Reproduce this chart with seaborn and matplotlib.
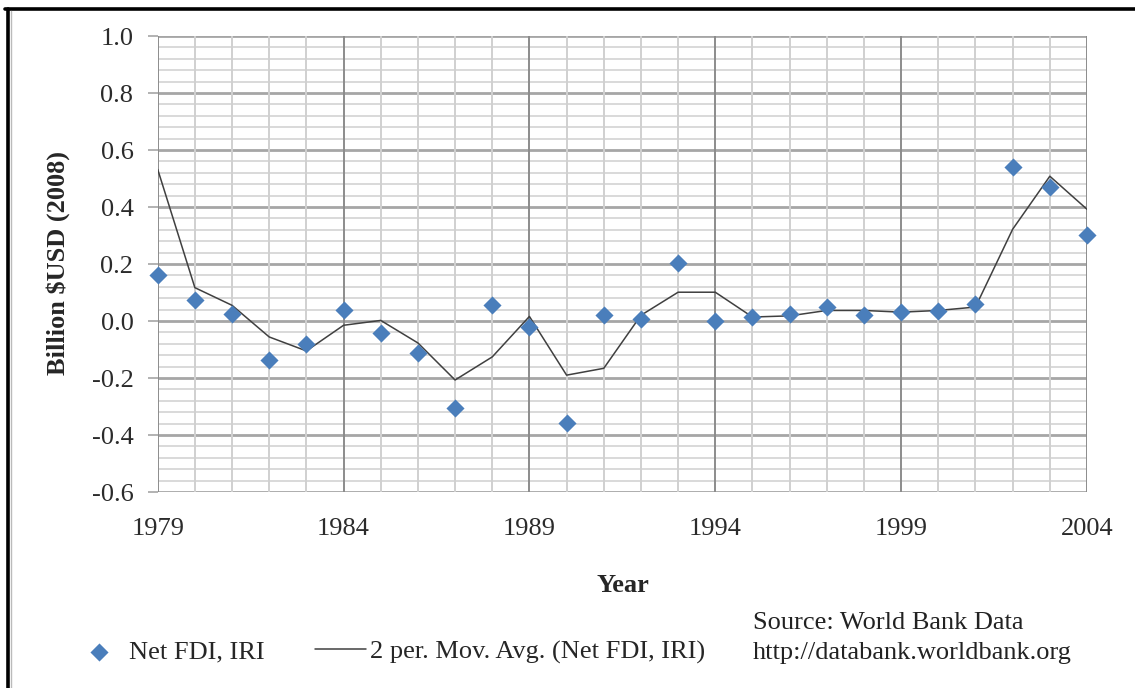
import numpy as np
import pandas as pd
import seaborn as sns
import matplotlib.pyplot as plt
from matplotlib.ticker import MultipleLocator, FormatStrFormatter
from matplotlib.lines import Line2D

# data
years = list(range(1979, 2005))
net_fdi = [0.163, 0.075, 0.023, -0.137, -0.081, 0.040, -0.042, -0.114, -0.307,
           0.057, -0.021, -0.358, 0.020, 0.006, 0.202, 0.000, 0.014, 0.023,
           0.049, 0.020, 0.033, 0.035, 0.058, 0.540, 0.470, 0.303]
mov_avg = [0.532, 0.117, 0.055, -0.056, -0.105, -0.015, 0.002, -0.077, -0.207,
           -0.126, 0.016, -0.190, -0.166, 0.020, 0.101, 0.101, 0.014, 0.018,
           0.037, 0.037, 0.031, 0.037, 0.049, 0.322, 0.508, 0.392]
x_ticks = [1979, 1984, 1989, 1994, 1999, 2004]

df = pd.DataFrame({'Year': years, 'Net FDI, IRI': net_fdi,
                   '2 per. Mov. Avg. (Net FDI, IRI)': mov_avg})

sns.set_style('white')
plt.rcParams['font.family'] = ['Liberation Serif', 'DejaVu Serif']
plt.rcParams['axes.unicode_minus'] = False

W, H = 1135, 688
fig = plt.figure(figsize=(W / 100, H / 100), dpi=100)
x0, x1, y0, y1 = 157.7, 1087, 36, 492
ax = fig.add_axes([x0 / W, 1 - y1 / H, (x1 - x0) / W, (y1 - y0) / H])

sns.lineplot(data=df, x='Year', y='2 per. Mov. Avg. (Net FDI, IRI)', ax=ax,
             color='#404040', linewidth=1.1, label='2 per. Mov. Avg. (Net FDI, IRI)',
             zorder=3)
sns.scatterplot(data=df, x='Year', y='Net FDI, IRI', ax=ax, marker='D', s=85,
                color='#4A7EBB', linewidth=0, label='Net FDI, IRI', zorder=4,
                clip_on=False)

ax.set_xlim(1979, 2004)
ax.set_ylim(-0.6, 1.0)
ax.xaxis.set_major_locator(plt.FixedLocator(x_ticks))
ax.xaxis.set_minor_locator(MultipleLocator(1))
ax.yaxis.set_major_locator(MultipleLocator(0.2))
ax.yaxis.set_minor_locator(MultipleLocator(0.04))
ax.yaxis.set_major_formatter(FormatStrFormatter('%.1f'))

ax.grid(which='major', axis='y', color='#A6A6A6', linewidth=2.0)
ax.grid(which='minor', axis='y', color='#D9D9D9', linewidth=1.4)
ax.grid(which='major', axis='x', color='#8C8C8C', linewidth=1.4)
ax.grid(which='minor', axis='x', color='#D0D0D0', linewidth=1.4)
ax.set_axisbelow(True)
ax.xaxis.set_zorder(0.6)  # vertical grid drawn over the horizontal one
for sp in ax.spines.values():
    sp.set_visible(False)

ax.tick_params(axis='y', which='major', length=7, width=1.2, color='#A6A6A6',
               pad=10.5, labelsize=19, labelcolor='#2B2B2B', left=True)
ax.tick_params(axis='x', which='major', length=0, pad=19, labelsize=19,
               labelcolor='#2B2B2B')
ax.tick_params(which='minor', length=0)

ax.set_xlabel('Year', fontsize=19, fontweight='bold', va='center')
ax.set_ylabel('Billion $USD (2008)', fontsize=19, fontweight='bold', va='center')
ax.xaxis.set_label_coords((623 - x0) / (x1 - x0), (y1 - 585) / (y1 - y0))
ax.yaxis.set_label_coords((58 - x0) / (x1 - x0), (y1 - 263) / (y1 - y0))

handles, labels = ax.get_legend_handles_labels()
order = [labels.index('Net FDI, IRI'), labels.index('2 per. Mov. Avg. (Net FDI, IRI)')]
ax.legend([handles[i] for i in order], [labels[i] for i in order],
          loc='center left', bbox_to_anchor=(74 / W, 1 - 652 / H),
          bbox_transform=fig.transFigure, ncol=2, frameon=False, fontsize=19,
          handlelength=1.93, handletextpad=0.15, columnspacing=1.9, borderpad=0,
          borderaxespad=0)

fig.text(753 / W, 1 - 623 / H, 'Source: World Bank Data', fontsize=19,
         va='center', ha='left', color='#222222')
fig.text(753 / W, 1 - 653 / H, 'http://databank.worldbank.org', fontsize=19,
         va='center', ha='left', color='#222222')

# frame lines on top and left of the picture
fig.add_artist(Line2D([5 / W, 1], [1 - 9 / H, 1 - 9 / H], color='black',
                      linewidth=2.6, transform=fig.transFigure))
fig.add_artist(Line2D([8 / W, 8 / W], [0, 1 - 9 / H], color='black',
                      linewidth=2.6, transform=fig.transFigure))
fig.add_artist(Line2D([10.5 / W, 10.5 / W], [0, 1 - 11 / H], color='#BBBBBB',
                      linewidth=1.0, transform=fig.transFigure))

fig.savefig('out.png', dpi=100)
